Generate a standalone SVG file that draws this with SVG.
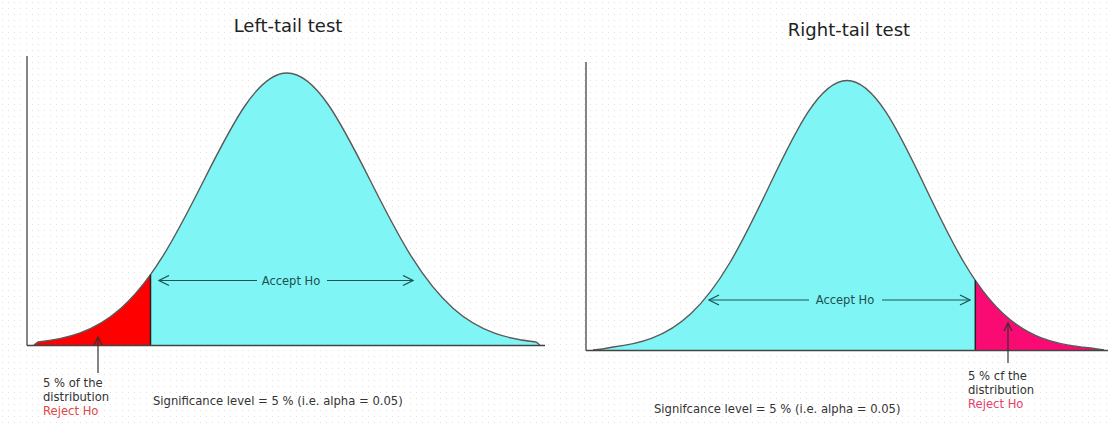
<svg xmlns="http://www.w3.org/2000/svg" width="1111" height="423" viewBox="0 0 1111 423">
<defs>
<pattern id="dots" width="6" height="6" patternUnits="userSpaceOnUse">
<rect x="2" y="2" width="1" height="1" fill="#e2e2e2"/>
</pattern>
<marker id="open" viewBox="0 0 12 12" refX="11" refY="6" markerWidth="12" markerHeight="12" markerUnits="userSpaceOnUse" orient="auto-start-reverse">
<path d="M1,1 L11,6 L1,11" fill="none" stroke="#1d5656" stroke-width="1.3"/>
</marker>
<marker id="up" viewBox="0 0 10 10" refX="9" refY="5" markerWidth="10" markerHeight="10" markerUnits="userSpaceOnUse" orient="auto">
<path d="M1,1 L9,5 L1,9" fill="none" stroke="#333" stroke-width="1.2"/>
</marker>
</defs>
<style>
text{font-family:"DejaVu Sans","Liberation Sans",sans-serif;fill:#333}
.title{font-size:18px;fill:#222;text-anchor:middle}
.lbl{font-size:11.6px;fill:#333}
.acc{font-size:11.5px;fill:#1d4f4f;text-anchor:middle}
.rej{font-size:11.6px}
.axis{stroke:#444;stroke-width:1.3;fill:none}
.curve{fill:none;stroke:#5a5a5a;stroke-width:1.4}
.cyan{fill:#80f5f5}
.cut{stroke:#222;stroke-width:1.5}
.acl{stroke:#1d5656;stroke-width:1.2;fill:none}
.ptr{stroke:#333;stroke-width:1.2;fill:none}
</style>
<rect width="1111" height="423" fill="#ffffff"/>
<rect width="1111" height="423" fill="url(#dots)"/>

<g id="left-panel">
<text class="title" x="288" y="32">Left-tail test</text>
<g id="left-curve">
<path fill="#ff0000" d="M34,345 L38,342 C51.83,340.49 65.67,338.08 79.5,333.1 C93.33,328.12 107.17,320.47 121,308.2 C130.83,299.48 140.67,288.4 150.5,274.7 L150.5,345 Z"/>
<path class="cyan" d="M150.5,345 L150.5,274.7 C154.5,269.13 158.5,263.08 162.5,256.7 C176.33,234.62 190.17,207.49 204,180 C217.83,152.51 231.67,125 245.5,105 C259.33,85 273.17,73 287,73 C300.83,73 314.67,85 328.5,105 C342.33,125 356.17,152.51 370,180 C383.83,207.49 397.67,234.62 411.5,256.7 C425.33,278.78 439.17,295.93 453,308.2 C466.83,320.47 480.67,328.12 494.5,333.1 C508.33,338.08 522.17,340.49 536,342 L540,345 Z"/>
<path class="curve" d="M34,345 L38,342 C51.83,340.49 65.67,338.08 79.5,333.1 C93.33,328.12 107.17,320.47 121,308.2 C130.83,299.48 140.67,288.4 150.5,274.7 C154.5,269.13 158.5,263.08 162.5,256.7 C176.33,234.62 190.17,207.49 204,180 C217.83,152.51 231.67,125 245.5,105 C259.33,85 273.17,73 287,73 C300.83,73 314.67,85 328.5,105 C342.33,125 356.17,152.51 370,180 C383.83,207.49 397.67,234.62 411.5,256.7 C425.33,278.78 439.17,295.93 453,308.2 C466.83,320.47 480.67,328.12 494.5,333.1 C508.33,338.08 522.17,340.49 536,342 L540,345"/>
<line class="cut" x1="150.5" y1="274.7" x2="150.5" y2="345"/>
</g>
<g id="left-axes">
<line class="axis" x1="27" y1="56" x2="27" y2="345.5"/>
<line class="axis" x1="27" y1="345.5" x2="545" y2="345.5"/>
</g>
<g id="left-accept">
<text class="acc" x="291" y="284.5">Accept Ho</text>
</g>
<g id="left-reject-label">
<text class="lbl" x="43" y="387">5 % of the</text>
<text class="lbl" x="43" y="401">distribution</text>
<text class="rej" x="43" y="415" style="fill:#e04848">Reject Ho</text>
</g>
<text class="lbl" x="153" y="405">Significance level = 5 % (i.e. alpha = 0.05)</text>
</g>

<g id="right-panel">
<text class="title" x="849" y="36">Right-tail test</text>
<g id="right-curve">
<path class="cyan" d="M593,350 C600,349.5 607,348.3 613,347 C626,345.5 639,343.13 652,338.2 C665,333.27 678,325.66 691,313.5 C704,301.34 717,284.38 730,262.5 C743,240.62 756,213.74 769,186.5 C782,159.26 795,132.02 808,112.2 C821,92.38 834,80.5 847,80.5 C860,80.5 873,92.38 886,112.2 C899,132.02 912,159.26 925,186.5 C938,213.74 951,240.62 964,262.5 C967.77,268.84 971.53,274.77 975.3,280.3 L975.3,350 Z"/>
<path fill="#fa0a73" d="M975.3,350 L975.3,280.3 C984.53,293.86 993.77,304.87 1003,313.5 C1016,325.66 1029,333.27 1042,338.2 C1055,343.13 1068,345.5 1081,347 C1088,347.6 1095,348.6 1104,350 Z"/>
<path class="curve" d="M593,350 C600,349.5 607,348.3 613,347 C626,345.5 639,343.13 652,338.2 C665,333.27 678,325.66 691,313.5 C704,301.34 717,284.38 730,262.5 C743,240.62 756,213.74 769,186.5 C782,159.26 795,132.02 808,112.2 C821,92.38 834,80.5 847,80.5 C860,80.5 873,92.38 886,112.2 C899,132.02 912,159.26 925,186.5 C938,213.74 951,240.62 964,262.5 C967.77,268.84 971.53,274.77 975.3,280.3 C984.53,293.86 993.77,304.87 1003,313.5 C1016,325.66 1029,333.27 1042,338.2 C1055,343.13 1068,345.5 1081,347 C1088,347.6 1095,348.6 1104,350"/>
<line class="cut" x1="975.3" y1="280.3" x2="975.3" y2="350"/>
</g>
<g id="right-axes">
<line class="axis" x1="586" y1="62" x2="586" y2="350.5"/>
<line class="axis" x1="586" y1="350.5" x2="1108" y2="350.5"/>
</g>
<g id="right-accept">
<text class="acc" x="845" y="304">Accept Ho</text>
</g>
<g id="right-reject-label">
<text class="lbl" x="968" y="380">5 % cf the</text>
<text class="lbl" x="968" y="394">distribution</text>
<text class="rej" x="968" y="408" style="fill:#e8406a">Reject Ho</text>
</g>
<text class="lbl" x="654" y="413">Signifcance level = 5 % (i.e. alpha = 0.05)</text>
</g>

<g id="connectors">
<line class="acl" x1="257" y1="280.5" x2="159" y2="280.5" marker-end="url(#open)"/>
<line class="acl" x1="327" y1="280.5" x2="413" y2="280.5" marker-end="url(#open)"/>
<line class="acl" x1="809" y1="300" x2="709" y2="300" marker-end="url(#open)"/>
<line class="acl" x1="882" y1="300" x2="970" y2="300" marker-end="url(#open)"/>
<line class="ptr" x1="98" y1="373" x2="98" y2="337" marker-end="url(#up)"/>
<line class="ptr" x1="1008" y1="363" x2="1008" y2="323" marker-end="url(#up)"/>
</g>
</svg>
